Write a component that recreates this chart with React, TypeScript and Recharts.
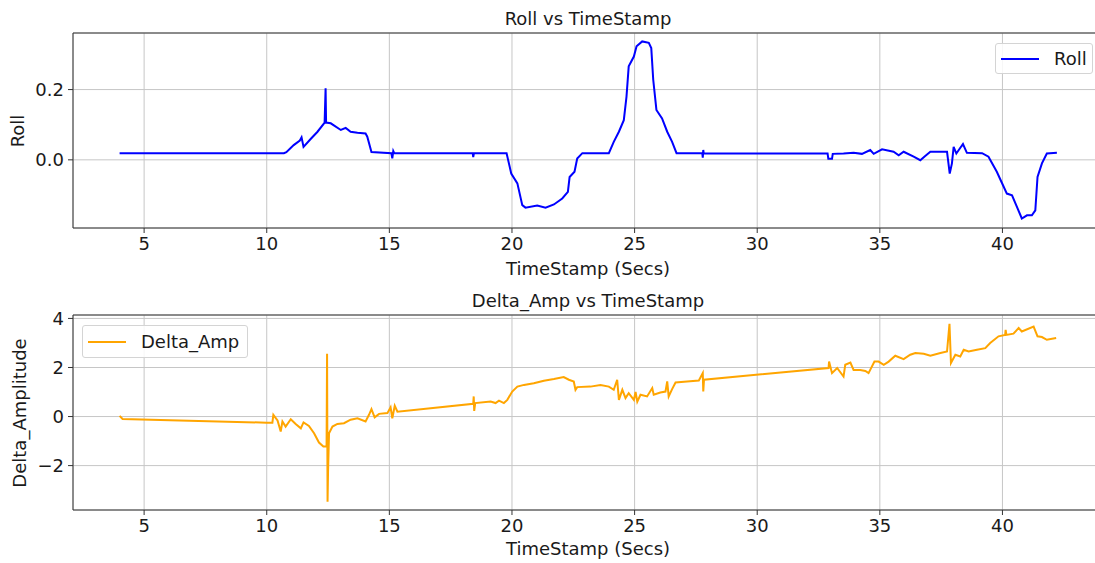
import { LineChart, Line, XAxis, YAxis, CartesianGrid, ReferenceLine } from 'recharts'

// Roll vs TimeStamp
const rollTs = [
  4.0, 6.0, 8.0, 9.7, 10.7, 10.8, 11.1, 11.35, 11.42, 11.5, 11.8, 12.07, 12.36, 12.4, 12.42,
  12.61, 13.02, 13.22, 13.42, 13.7, 14.03, 14.1, 14.27, 15.08, 15.12, 15.16, 15.2, 18.4, 18.42,
  18.45, 19.78, 19.97, 20.22, 20.42, 20.55, 21.03, 21.37, 21.71, 22.05, 22.28, 22.35, 22.55,
  22.66, 22.87, 23.95, 24.15, 24.36, 24.56, 24.67, 24.76, 24.97, 25.08, 25.31, 25.58, 25.68,
  25.76, 25.89, 26.12, 26.33, 26.53, 26.71, 27.76, 27.78, 27.8, 27.82, 32.87, 32.9, 33.05,
  33.08, 33.52, 33.93, 34.27, 34.61, 34.75, 35.09, 35.56, 35.77, 35.97, 36.38, 36.65, 36.85,
  37.06, 37.74, 37.85, 37.94, 38.01, 38.12, 38.39, 38.55, 39.17, 39.43, 39.77, 39.98, 40.18,
  40.39, 40.56, 40.79, 41.0, 41.2, 41.34, 41.43, 41.61, 41.81, 42.22,
]
const rollVals = [
  0.019, 0.019, 0.019, 0.019, 0.019, 0.022, 0.042, 0.055, 0.064, 0.037, 0.06, 0.08, 0.106, 0.204,
  0.106, 0.104, 0.085, 0.091, 0.08, 0.077, 0.075, 0.066, 0.022, 0.019, 0.004, 0.025, 0.019,
  0.019, 0.008, 0.019, 0.019, -0.039, -0.067, -0.129, -0.136, -0.13, -0.136, -0.127, -0.11,
  -0.091, -0.049, -0.034, 0.004, 0.019, 0.019, 0.051, 0.08, 0.113, 0.18, 0.266, 0.294, 0.323,
  0.337, 0.333, 0.318, 0.228, 0.142, 0.118, 0.08, 0.051, 0.019, 0.019, 0.006, 0.028, 0.018,
  0.018, 0.003, 0.003, 0.017, 0.018, 0.02, 0.017, 0.028, 0.017, 0.03, 0.023, 0.013, 0.023,
  0.009, -0.001, 0.011, 0.023, 0.023, -0.039, -0.01, 0.037, 0.018, 0.045, 0.02, 0.019, 0.009,
  -0.034, -0.066, -0.096, -0.101, -0.129, -0.167, -0.158, -0.158, -0.144, -0.049, -0.01, 0.018,
  0.02,
]

// Delta_Amp vs TimeStamp
const deltaTs = [
  4.0, 4.12, 10.0, 10.23, 10.27, 10.44, 10.57, 10.64, 10.77, 10.98, 11.18, 11.39, 11.5, 11.72,
  11.93, 12.13, 12.31, 12.44, 12.46, 12.48, 12.5, 12.54, 12.68, 12.88, 13.15, 13.42, 13.7, 14.03,
  14.17, 14.27, 14.4, 14.58, 14.92, 15.05, 15.12, 15.22, 15.33, 18.42, 18.44, 18.46, 18.5, 19.13,
  19.33, 19.47, 19.67, 19.81, 20.01, 20.22, 20.49, 20.89, 21.3, 21.71, 22.11, 22.32, 22.52,
  22.59, 22.66, 23.2, 23.61, 23.95, 24.15, 24.29, 24.36, 24.5, 24.63, 24.76, 24.97, 25.04,
  25.11, 25.24, 25.51, 25.72, 25.78, 26.05, 26.26, 26.33, 26.39, 26.53, 26.67, 27.14, 27.62,
  27.78, 27.8, 27.83, 32.91, 32.93, 33.05, 33.26, 33.52, 33.59, 33.8, 33.93, 34.2, 34.41, 34.54,
  34.78, 34.95, 35.16, 35.36, 35.63, 35.97, 36.24, 36.45, 36.79, 37.06, 37.47, 37.74, 37.84,
  37.9, 38.08, 38.28, 38.42, 38.62, 38.96, 39.3, 39.5, 39.84, 40.11, 40.13, 40.16, 40.45, 40.66,
  40.79, 41.27, 41.43, 41.61, 41.81, 42.19,
]
const deltaVals = [
  0.03, -0.1, -0.25, -0.25, 0.07, -0.16, -0.61, -0.2, -0.41, -0.11, -0.3, -0.48, -0.24, -0.38,
  -0.68, -1.06, -1.22, -1.22, 2.56, -3.47, -2.24, -0.68, -0.41, -0.3, -0.27, -0.13, -0.07, -0.2,
  0.07, 0.3, -0.03, 0.11, 0.14, 0.38, -0.07, 0.44, 0.2, 0.52, 0.82, 0.23, 0.55, 0.61, 0.55, 0.65,
  0.55, 0.68, 1.02, 1.22, 1.29, 1.36, 1.46, 1.53, 1.61, 1.5, 1.43, 1.09, 1.2, 1.22, 1.29, 1.22,
  1.09, 1.5, 0.68, 1.09, 0.75, 0.95, 0.68, 1.0, 0.61, 0.89, 0.82, 1.16, 0.89, 0.98, 1.02, 1.43,
  0.82, 1.12, 1.39, 1.43, 1.47, 1.77, 1.02, 1.5, 1.98, 2.24, 1.77, 1.98, 1.63, 2.11, 2.2, 1.9,
  1.9, 1.86, 1.77, 2.24, 2.24, 2.11, 2.24, 2.48, 2.34, 2.52, 2.59, 2.56, 2.48, 2.59, 2.65, 3.78,
  2.18, 2.52, 2.45, 2.72, 2.65, 2.72, 2.79, 3.0, 3.27, 3.33, 3.53, 3.33, 3.38, 3.61, 3.47, 3.67,
  3.27, 3.24, 3.13, 3.2,
]

const xTicks = [5, 10, 15, 20, 25, 30, 35, 40]
const rollTicks = [0, 0.2]
const deltaTicks = [-2, 0, 2, 4]

const X_DOMAIN: [number, number] = [2.1, 44.1]
const ROLL_DOMAIN: [number, number] = [-0.194, 0.361]
const DELTA_DOMAIN: [number, number] = [-3.81, 4.14]

const FONT = "'DejaVu Sans', sans-serif"
const TEXT = '#1a1a1a'
const SPINE = '#333'
const GRID = '#c6c6c6'

const rollData = rollTs.map((t, i) => ({ t, v: rollVals[i] }))
const deltaData = deltaTs.map((t, i) => ({ t, v: deltaVals[i] }))

const tickStyle = { fill: TEXT, fontSize: 18, fontFamily: FONT }

function fmtMinus(v: number) {
  return v < 0 ? `\u2212${Math.abs(v)}` : String(v)
}

function TextAt({ x, y, text, rotate = false }: { x: number; y: number; text: string; rotate?: boolean }) {
  return (
    <div
      style={{
        position: 'absolute',
        left: x,
        top: y,
        transform: `translate(-50%, -50%)${rotate ? ' rotate(-90deg)' : ''}`,
        fontFamily: FONT,
        fontSize: 18,
        color: TEXT,
        whiteSpace: 'nowrap',
        lineHeight: 1,
      }}
    >
      {text}
    </div>
  )
}

function LegendBox({ left, top, width, height, color, label }: {
  left: number; top: number; width: number; height: number; color: string; label: string
}) {
  return (
    <div
      style={{
        position: 'absolute',
        left,
        top,
        width,
        height,
        boxSizing: 'border-box',
        border: '1px solid #d4d4d4',
        borderRadius: 3,
        background: 'rgba(255,255,255,0.85)',
        display: 'flex',
        alignItems: 'center',
        fontFamily: FONT,
        fontSize: 18,
        color: TEXT,
      }}
    >
      <div style={{ width: 38, height: 2, background: color, marginLeft: 5, marginRight: 15 }} />
      <span>{label}</span>
    </div>
  )
}

export default function App() {
  return (
    <div style={{ position: 'absolute', left: 0, top: 0, width: 1095, height: 563, overflow: 'hidden', background: '#fff' }}>
      <div style={{ position: 'absolute', left: 0, top: 0 }}>
        <LineChart width={1110} height={290} data={rollData} margin={{ top: 33, right: 7, left: 0, bottom: 32 }}>
          <CartesianGrid stroke={GRID} strokeWidth={1} />
          <XAxis
            type="number"
            dataKey="t"
            domain={X_DOMAIN}
            ticks={xTicks}
            allowDataOverflow
            height={30}
            tick={tickStyle}
            tickSize={5}
            tickMargin={4}
            stroke={SPINE}
          />
          <YAxis
            type="number"
            dataKey="v"
            domain={ROLL_DOMAIN}
            ticks={rollTicks}
            allowDataOverflow
            width={73}
            tick={tickStyle}
            tickSize={5}
            tickMargin={4}
            tickFormatter={(v: number) => v.toFixed(1)}
            stroke={SPINE}
          />
          <ReferenceLine y={ROLL_DOMAIN[1]} stroke={SPINE} />
          <Line type="linear" dataKey="v" stroke="#0000ff" strokeWidth={2} dot={false} isAnimationActive={false} />
        </LineChart>
      </div>
      <div style={{ position: 'absolute', left: 0, top: 280 }}>
        <LineChart width={1110} height={283} data={deltaData} margin={{ top: 35, right: 7, left: 0, bottom: 23 }}>
          <CartesianGrid stroke={GRID} strokeWidth={1} />
          <XAxis
            type="number"
            dataKey="t"
            domain={X_DOMAIN}
            ticks={xTicks}
            allowDataOverflow
            height={30}
            tick={tickStyle}
            tickSize={5}
            tickMargin={4}
            stroke={SPINE}
          />
          <YAxis
            type="number"
            dataKey="v"
            domain={DELTA_DOMAIN}
            ticks={deltaTicks}
            allowDataOverflow
            width={73}
            tick={tickStyle}
            tickSize={5}
            tickMargin={4}
            tickFormatter={fmtMinus}
            stroke={SPINE}
          />
          <ReferenceLine y={DELTA_DOMAIN[1]} stroke={SPINE} />
          <Line type="linear" dataKey="v" stroke="#ffa500" strokeWidth={2} dot={false} isAnimationActive={false} />
        </LineChart>
      </div>

      <TextAt x={588} y={19} text="Roll vs TimeStamp" />
      <TextAt x={588} y={269} text="TimeStamp (Secs)" />
      <TextAt x={18} y={131} text="Roll" rotate />
      <LegendBox left={995} top={43} width={98} height={31} color="#0000ff" label="Roll" />

      <TextAt x={588} y={301} text="Delta_Amp vs TimeStamp" />
      <TextAt x={588} y={549} text="TimeStamp (Secs)" />
      <TextAt x={20} y={413} text="Delta_Amplitude" rotate />
      <LegendBox left={82} top={325} width={166} height={33} color="#ffa500" label="Delta_Amp" />
    </div>
  )
}
